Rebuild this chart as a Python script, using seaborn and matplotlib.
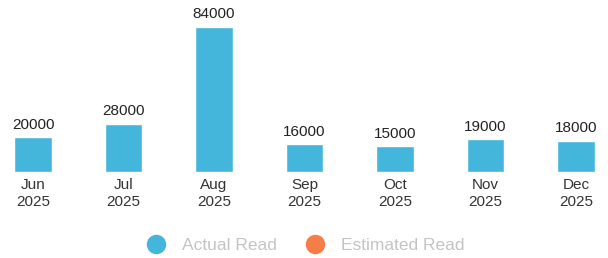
import matplotlib
matplotlib.use("Agg")
import pandas as pd
import seaborn as sns
from matplotlib import pyplot as plt
from matplotlib.lines import Line2D

# chart data
months = ["Jun\n2025", "Jul\n2025", "Aug\n2025", "Sep\n2025", "Oct\n2025", "Nov\n2025", "Dec\n2025"]
actual_read = [20000, 28000, 84000, 16000, 15000, 19000, 18000]
legend_labels = ["Actual Read", "Estimated Read"]

BLUE = "#45b6db"
ORANGE = "#f57d4a"

sns.set_style("white")
plt.rcParams["font.family"] = ["Liberation Sans", "DejaVu Sans"]

df = pd.DataFrame({"month": months, "read": actual_read})

fig = plt.figure(figsize=(6.08, 2.58), dpi=100)
# axes spans full width; bottom at bar baseline
ax = fig.add_axes([0, 1 - 172 / 258, 1, 167 / 258])
sns.barplot(data=df, x="month", y="read", color=BLUE, width=0.41,
            saturation=1, ax=ax)

ax.set_xlim(-33 / 90.5, (608 - 33) / 90.5)
ax.set_ylim(0, 84000 * 167 / 145)
ax.set_xlabel("")
ax.set_ylabel("")
ax.set_yticks([])
ax.tick_params(axis="x", length=0, pad=4, labelsize=11, labelcolor="#333333")
for lbl in ax.get_xticklabels():
    lbl.set_multialignment("center")
    lbl.set_linespacing(1.3)
sns.despine(ax=ax, left=True, bottom=True)

for container in ax.containers:
    ax.bar_label(container, fmt="%d", padding=4, fontsize=11, color="#222222")

handles = [
    Line2D([], [], marker="o", linestyle="", markersize=13, color=BLUE),
    Line2D([], [], marker="o", linestyle="", markersize=13, color=ORANGE),
]
fig.legend(handles, legend_labels, loc="center", bbox_to_anchor=(0.496, 1 - 245 / 258),
           ncol=2, frameon=False, fontsize=12.5, labelcolor="#c4c4c4",
           handletextpad=0.5, columnspacing=1.2)

fig.savefig("out.png", dpi=100)
plt.close(fig)
